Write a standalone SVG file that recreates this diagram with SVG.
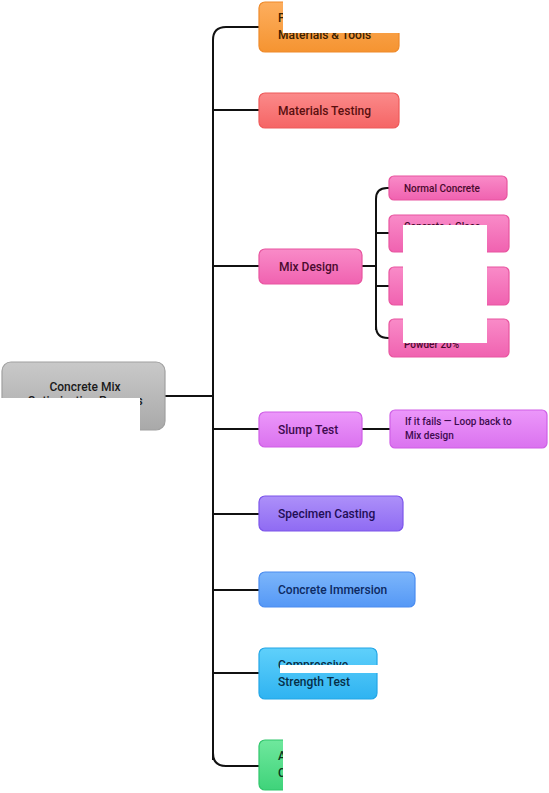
<svg xmlns="http://www.w3.org/2000/svg" width="549" height="793" viewBox="0 0 549 793">
<style>
.t{font-family:Roboto,"Liberation Sans",sans-serif;font-size:12px;font-weight:500}
.s{font-family:Roboto,"Liberation Sans",sans-serif;font-size:10px;font-weight:500}
.c{fill:none;stroke:#111;stroke-width:2}
.box{stroke-width:1.2}
</style>
<defs>
<linearGradient id="gO" x1="0" y1="0" x2="0" y2="1"><stop offset="0" stop-color="#fdae5e"/><stop offset="1" stop-color="#f59431"/></linearGradient>
<linearGradient id="gR" x1="0" y1="0" x2="0" y2="1"><stop offset="0" stop-color="#fb8a8a"/><stop offset="1" stop-color="#f56565"/></linearGradient>
<linearGradient id="gP" x1="0" y1="0" x2="0" y2="1"><stop offset="0" stop-color="#f98bc8"/><stop offset="1" stop-color="#f062b0"/></linearGradient>
<linearGradient id="gG" x1="0" y1="0" x2="0" y2="1"><stop offset="0" stop-color="#c9c9c9"/><stop offset="1" stop-color="#a9a9a9"/></linearGradient>
<linearGradient id="gV" x1="0" y1="0" x2="0" y2="1"><stop offset="0" stop-color="#ec97fa"/><stop offset="1" stop-color="#da72ef"/></linearGradient>
<linearGradient id="gU" x1="0" y1="0" x2="0" y2="1"><stop offset="0" stop-color="#ad90f9"/><stop offset="1" stop-color="#8f6bf3"/></linearGradient>
<linearGradient id="gB" x1="0" y1="0" x2="0" y2="1"><stop offset="0" stop-color="#7cb6fb"/><stop offset="1" stop-color="#5598f6"/></linearGradient>
<linearGradient id="gC" x1="0" y1="0" x2="0" y2="1"><stop offset="0" stop-color="#5fd0fb"/><stop offset="1" stop-color="#2fb3f1"/></linearGradient>
<linearGradient id="gN" x1="0" y1="0" x2="0" y2="1"><stop offset="0" stop-color="#6fe89d"/><stop offset="1" stop-color="#3fd37a"/></linearGradient>
</defs>
<g id="connectors">
<path class="c" d="M213 760 V40 Q213 27 226 27 H265"/>
<path class="c" d="M213 753 Q213 766 226 766 H265"/>
<path class="c" d="M160 396 H213"/>
<path class="c" d="M213 110 H265"/>
<path class="c" d="M213 266 H265"/>
<path class="c" d="M213 429 H265"/>
<path class="c" d="M213 514 H265"/>
<path class="c" d="M213 590 H265"/>
<path class="c" d="M213 673 H265"/>
<path class="c" d="M362 266 H376"/>
<path class="c" d="M376 330 V199 Q376 188 387 188 H395"/>
<path class="c" d="M376 326 Q376 338 388 338 H395"/>
<path class="c" d="M376 233 H395"/>
<path class="c" d="M376 286 H395"/>
<path class="c" d="M362 429 H392"/>
</g>
<g id="n1"><rect class="box" x="259" y="2" width="140" height="50" rx="6" fill="url(#gO)" stroke="#ef8a2a"/><text class="t" x="278" y="22" fill="#3a2000">Procurement of</text><text class="t" x="278" y="39" fill="#3a2000">Materials &amp; Tools</text></g>
<g id="n2"><rect class="box" x="259" y="93" width="140" height="35" rx="6" fill="url(#gR)" stroke="#ee5a5a"/><text class="t" x="278" y="115" fill="#5a0f0f">Materials Testing</text></g>
<g id="n3"><rect class="box" x="259" y="249" width="103" height="35" rx="6" fill="url(#gP)" stroke="#e8559f"/><text class="t" x="279" y="271" fill="#4a0a2e">Mix Design</text></g>
<g id="n3a"><rect class="box" x="389" y="176" width="118" height="24" rx="5" fill="url(#gP)" stroke="#e8559f"/><text class="s" x="404" y="191.5" fill="#4a0a2e">Normal Concrete</text></g>
<g id="n3b"><rect class="box" x="389" y="215" width="120" height="37" rx="5" fill="url(#gP)" stroke="#e8559f"/><text class="s" x="404" y="230" fill="#4a0a2e">Concrete + Glass</text><text class="s" x="404" y="244" fill="#4a0a2e">Powder 10%</text></g>
<g id="n3c"><rect class="box" x="389" y="267" width="120" height="38" rx="5" fill="url(#gP)" stroke="#e8559f"/><text class="s" x="404" y="282" fill="#4a0a2e">Concrete + Glass</text><text class="s" x="404" y="296" fill="#4a0a2e">Powder 15%</text></g>
<g id="n3d"><rect class="box" x="389" y="319" width="120" height="38" rx="5" fill="url(#gP)" stroke="#e8559f"/><text class="s" x="404" y="334" fill="#4a0a2e">Concrete + Glass</text><text class="s" x="404" y="348" fill="#4a0a2e">Powder 20%</text></g>
<g id="root"><rect class="box" x="2" y="362" width="163" height="68" rx="9" fill="url(#gG)" stroke="#a0a0a0"/><text class="t" x="85" y="391" text-anchor="middle" fill="#1a1a1a">Concrete Mix</text><text class="t" x="85" y="405" text-anchor="middle" fill="#1a1a1a">Optimization Process</text></g>
<g id="n4"><rect class="box" x="259" y="412" width="103" height="35" rx="6" fill="url(#gV)" stroke="#cf5fe6"/><text class="t" x="278" y="434" fill="#3e0b4f">Slump Test</text></g>
<g id="n4a"><rect class="box" x="390" y="410" width="157" height="38" rx="5" fill="url(#gV)" stroke="#cf5fe6"/><text class="s" x="405" y="425" fill="#3e0b4f">If it fails — Loop back to</text><text class="s" x="405" y="439" fill="#3e0b4f">Mix design</text></g>
<g id="n5"><rect class="box" x="259" y="496" width="144" height="35" rx="6" fill="url(#gU)" stroke="#7c55ea"/><text class="t" x="278" y="518" fill="#1f0d57">Specimen Casting</text></g>
<g id="n6"><rect class="box" x="259" y="572" width="156" height="35" rx="6" fill="url(#gB)" stroke="#4a8cf0"/><text class="t" x="278" y="594" fill="#0d2a63">Concrete Immersion</text></g>
<g id="n7"><rect class="box" x="259" y="648" width="118" height="51" rx="6" fill="url(#gC)" stroke="#23a6e6"/><text class="t" x="278" y="669" fill="#062f48">Compressive</text><text class="t" x="278" y="686" fill="#062f48">Strength Test</text></g>
<g id="n8"><rect class="box" x="259" y="740" width="130" height="50" rx="6" fill="url(#gN)" stroke="#31c66c"/><text class="t" x="278" y="760" fill="#08361a">Analysis &amp;</text><text class="t" x="278" y="777" fill="#08361a">Conclusion</text></g>
<g id="masks" fill="#fff">
<rect x="283" y="0" width="140" height="33"/>
<rect x="403" y="225" width="84" height="118"/>
<rect x="0" y="398" width="140" height="45"/>
<rect x="280" y="665" width="98" height="8"/>
<rect x="283" y="735" width="140" height="58"/>
</g>
</svg>
